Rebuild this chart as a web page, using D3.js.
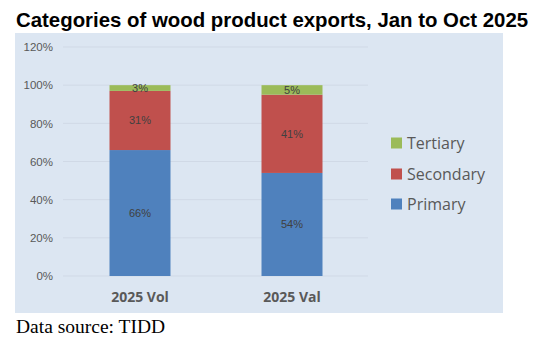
<!DOCTYPE html>
<html><head><meta charset="utf-8">
<script src="https://cdn.jsdelivr.net/npm/d3@7"></script>
<style>body{margin:0;background:#fff}svg{display:block}</style>
</head><body>
<svg id="c" width="536" height="345"></svg>
<script>
const categories = ["2025 Vol", "2025 Val"];
const seriesNames = ["Primary", "Secondary", "Tertiary"];
const primary = [66, 54];
const secondary = [31, 41];
const tertiary = [3, 5];
const yTicks = [0, 20, 40, 60, 80, 100, 120];
const colors = ["#4f81bd", "#c0504d", "#9bbb59"];

const svg = d3.select("#c");
svg.append("text").attr("x", 16).attr("y", 27)
  .attr("font-family", "Liberation Sans, Arial, sans-serif").attr("font-weight", "bold")
  .attr("font-size", 20.4).attr("fill", "#000")
  .text("Categories of wood product exports, Jan to Oct 2025");

svg.append("rect").attr("x", 15).attr("y", 33).attr("width", 488).attr("height", 280).attr("fill", "#dce6f2");

const y = d3.scaleLinear().domain([0, 120]).range([276, 47]);
const x = d3.scaleBand().domain(categories).range([64, 368]).paddingInner(0.6).paddingOuter(0.3);

const grid = svg.append("g");
yTicks.forEach(t => {
  grid.append("line").attr("x1", 63).attr("x2", 368).attr("y1", y(t)).attr("y2", y(t))
    .attr("stroke", "#d0d9e6").attr("stroke-width", 1);
});
const yAxis = d3.axisLeft(y).tickValues(yTicks).tickFormat(d => d + "%").tickSize(0).tickPadding(0);
const ya = svg.append("g").attr("transform", "translate(53,0)").call(yAxis);
ya.select(".domain").remove();
ya.selectAll("text").attr("font-family", "Liberation Sans, Arial, sans-serif").attr("font-size", 11.5).attr("fill", "#595959");

const rows = categories.map((c, i) => ({cat: c, Primary: primary[i], Secondary: secondary[i], Tertiary: tertiary[i]}));
const stack = d3.stack().keys(seriesNames)(rows);
const bw = 61;
stack.forEach((s, si) => {
  const g = svg.append("g");
  s.forEach(d => {
    const cx = x(d.data.cat) + x.bandwidth() / 2;
    g.append("rect").attr("x", cx - bw / 2).attr("width", bw)
      .attr("y", y(d[1])).attr("height", y(d[0]) - y(d[1])).attr("fill", colors[si]);
    g.append("text").attr("x", cx).attr("y", (y(d[0]) + y(d[1])) / 2 + 4)
      .attr("text-anchor", "middle").attr("font-family", "Liberation Sans, Arial, sans-serif")
      .attr("font-size", 11).attr("fill", "#404040").text((d[1] - d[0]) + "%");
  });
});

const xAxis = d3.axisBottom(x).tickSize(0).tickPadding(0);
const xa = svg.append("g").call(xAxis);
xa.select(".domain").remove();
xa.selectAll("text").attr("font-family", "Open Sans, Liberation Sans, sans-serif").attr("font-weight", "bold")
  .attr("font-size", 14).attr("fill", "#595959").attr("dy", 0).attr("y", 0);
xa.selectAll(".tick").attr("transform", d => `translate(${x(d) + x.bandwidth()/2},302)`);

const legendItems = [["Tertiary", 2, 143], ["Secondary", 1, 174], ["Primary", 0, 204]];
legendItems.forEach(([name, ci, cy]) => {
  svg.append("rect").attr("x", 391).attr("y", cy - 5.5).attr("width", 11).attr("height", 11).attr("fill", colors[ci]);
  svg.append("text").attr("x", 407).attr("y", cy + 6)
    .attr("font-family", "Open Sans, Liberation Sans, sans-serif").attr("font-size", 16).attr("fill", "#595959").text(name);
});

svg.append("text").attr("x", 16).attr("y", 333)
  .attr("font-family", "Liberation Serif, Times New Roman, serif").attr("font-size", 19.5).attr("fill", "#000")
  .text("Data source: TIDD");
</script>
</body></html>
